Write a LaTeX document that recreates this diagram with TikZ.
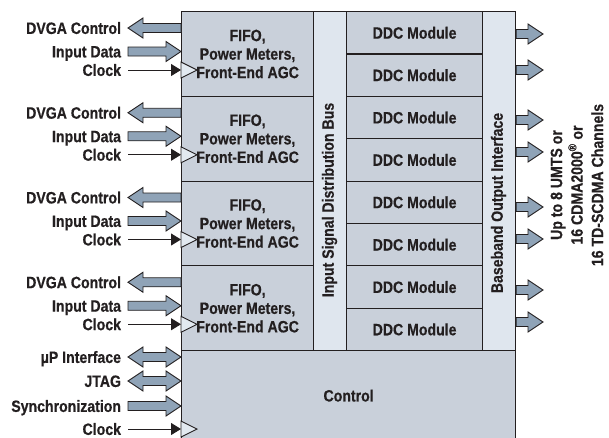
\documentclass[tikz,border=0pt]{standalone}
\usepackage{fontspec}
\setmainfont{Liberation Sans}[FakeStretch=0.86, FakeBold=0.5]
\usepackage{tikz}
\usepackage{xcolor}
\usetikzlibrary{calc,arrows.meta}
\definecolor{panel}{HTML}{C9D0DA}
\definecolor{busfill}{HTML}{DFE6EE}
\definecolor{arrowfill}{HTML}{8FA3B7}
\definecolor{clockfill}{HTML}{E2E9F0}
\definecolor{ink}{HTML}{231F20}
\tikzset{
    block-text/.style = {font=\bfseries\fontsize{16.4}{18.5}\selectfont, text=ink},
    cell-box/.style = {block-text, draw=ink, fill=panel, line width=1.2pt, rectangle, inner sep=0pt, anchor=north west},
    fifo-box/.style = {cell-box, minimum width=132pt, minimum height=84.75pt, align=center},
    ddc-box/.style = {cell-box, minimum width=136pt, minimum height=42.375pt},
    bus-box/.style = {cell-box, fill=busfill, minimum width=33pt, minimum height=339pt},
    pin-label/.style = {block-text, anchor=east, inner sep=0pt, outer xsep=7pt, text height=11.8pt, text depth=0pt},
    fat-arrow/.style = {draw=ink, fill=arrowfill, line width=0.9pt, to path={
        let \p1=(\tikztostart), \p2=(\tikztotarget), \n1={sign(\x2-\x1)} in
        (\x1,\y1+4.5pt) -- (\x2-15*\n1,\y1+4.5pt) -- (\x2-15*\n1,\y1+10pt) -- (\x2,\y1)
        -- (\x2-15*\n1,\y1-10pt) -- (\x2-15*\n1,\y1-4.5pt) -- (\x1,\y1-4.5pt) -- cycle}},
    fat-double/.style = {draw=ink, fill=arrowfill, line width=0.9pt, to path={
        let \p1=(\tikztostart), \p2=(\tikztotarget) in
        (\x1,\y1) -- (\x1+15pt,\y1+10pt) -- (\x1+15pt,\y1+4.5pt) -- (\x2-15pt,\y1+4.5pt)
        -- (\x2-15pt,\y1+10pt) -- (\x2,\y1) -- (\x2-15pt,\y1-10pt) -- (\x2-15pt,\y1-4.5pt)
        -- (\x1+15pt,\y1-4.5pt) -- (\x1+15pt,\y1-10pt) -- cycle}},
    clock-line/.style = {draw=ink, line width=1pt, -{Triangle[length=10pt,width=12pt]}},
    clock-mark/.style = {draw=ink, fill=clockfill, line width=0.9pt},
}
\begin{document}
\begin{tikzpicture}[x=1pt, y=-1pt]
\useasboundingbox (0,0) rectangle (609,437);

\node[cell-box, minimum width=334pt, minimum height=90pt] (control) at (181,350) {Control};
\node[bus-box] (bus) at (313,11) {};
\node[bus-box] (baseband) at (482,11) {};
\node[block-text, rotate=90] (bus-label) at (329.5,200) {Input Signal Distribution Bus};
\node[block-text, rotate=90] (baseband-label) at (498.5,203) {Baseband Output Interface};

\foreach \j in {1,...,8}
    \node[ddc-box] (ddc\j) at (346,{11+(\j-1)*42.375}) {DDC Module};

\foreach \i in {1,...,4} {
    \pgfmathsetmacro{\rowtop}{11+(\i-1)*84.75}
    \node[fifo-box] (fifo\i) at (181,\rowtop) {FIFO,\\Power Meters,\\Front-End AGC};
    \node[pin-label] (dvga\i) at (128,\rowtop+17) {DVGA Control};
    \node[pin-label] (din\i) at (128,\rowtop+40.5) {Input Data};
    \node[pin-label] (clk\i) at (128,\rowtop+59) {Clock};
    \draw[fat-arrow] (fifo\i.west |- dvga\i.east) to (dvga\i.east);
    \draw[fat-arrow] (din\i.east) to (fifo\i.west |- din\i.east);
    \draw[clock-line] (clk\i.east) -- (fifo\i.west |- clk\i.east);
    \draw[clock-mark] (fifo\i.west |- clk\i.east) ++(0,-8) -- ++(16,8) -- ++(-16,8) -- cycle;
}

\node[pin-label] (mup) at (128,357) {µP Interface};
\node[pin-label] (jtag) at (128,381) {JTAG};
\node[pin-label] (sync) at (128,406) {Synchronization};
\node[pin-label] (clk5) at (128,429) {Clock};
\draw[fat-double] (mup.east) to (control.west |- mup.east);
\draw[fat-double] (jtag.east) to (control.west |- jtag.east);
\draw[fat-arrow] (sync.east) to (control.west |- sync.east);
\draw[clock-line] (clk5.east) -- (control.west |- clk5.east);
\draw[clock-mark] (control.west |- clk5.east) ++(0,-8) -- ++(16,8) -- ++(-16,8) -- cycle;

\foreach \y [count=\k] in {34,70,120,152,207,239,290,322} {
    \coordinate (out\k) at (543,\y);
    \draw[fat-arrow] (baseband.east |- out\k) to (out\k);
}

\node[block-text, rotate=90, align=center, font=\bfseries\fontsize{16.4}{20.5}\selectfont] (channels) at (577,185)
    {Up to 8 UMTS or\\16 CDMA2000\textsuperscript{®} or\\16 TD-SCDMA Channels};
\end{tikzpicture}
\end{document}
